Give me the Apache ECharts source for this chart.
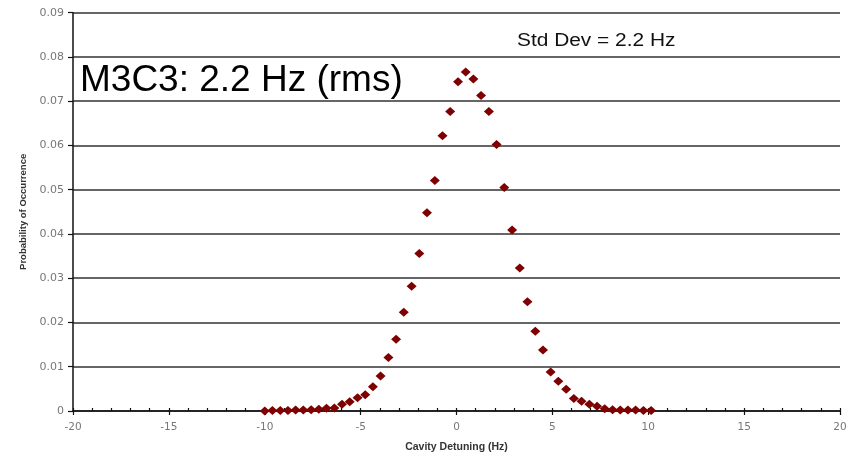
<!DOCTYPE html>
<html>
<head>
<meta charset="utf-8">
<script src="https://cdn.jsdelivr.net/npm/echarts@6/dist/echarts.min.js"></script>
<style>
  html, body { margin: 0; padding: 0; background: #fff; }
  #chart { width: 855px; height: 458px; }
</style>
</head>
<body>
<div id="chart"></div>
<script>
// Cavity detuning bins (Hz)
var detuning = [
  -10.00, -9.60, -9.19, -8.79, -8.39, -7.99, -7.58, -7.18, -6.78, -6.37,
  -5.97, -5.57, -5.16, -4.76, -4.36, -3.96, -3.55, -3.15, -2.75, -2.34,
  -1.94, -1.54, -1.13, -0.73, -0.33, 0.08, 0.48, 0.88, 1.28, 1.69,
  2.09, 2.49, 2.90, 3.30, 3.70, 4.11, 4.51, 4.91, 5.31, 5.72,
  6.12, 6.52, 6.93, 7.33, 7.73, 8.14, 8.54, 8.94, 9.34, 9.75,
  10.15
];
// Probability of occurrence for each bin
var probability = [
  0.0000, 0.0001, 0.0001, 0.0001, 0.0002, 0.0002, 0.0003, 0.0004, 0.0006, 0.0007,
  0.0015, 0.0021, 0.0030, 0.0037, 0.0055, 0.0079, 0.0121, 0.0162, 0.0223, 0.0282,
  0.0356, 0.0448, 0.0521, 0.0622, 0.0677, 0.0744, 0.0766, 0.0750, 0.0713, 0.0677,
  0.0602, 0.0505, 0.0409, 0.0323, 0.0247, 0.0180, 0.0138, 0.0088, 0.0067, 0.0049,
  0.0028, 0.0022, 0.0015, 0.0011, 0.0005, 0.0003, 0.0002, 0.0002, 0.0002, 0.0001,
  0.0001
];
var xRange = [-20, 20];
var yRange = [0, 0.09];
var title = 'M3C3: 2.2 Hz (rms)';
var stdNote = 'Std Dev = 2.2 Hz';

var points = detuning.map(function (x, i) { return [x, probability[i]]; });

var chart = echarts.init(document.getElementById('chart'), null, { renderer: 'canvas' });
var labelFont = 'DejaVu Sans';
chart.setOption({
  backgroundColor: '#ffffff',
  animation: false,
  grid: { left: 73, right: 15, top: 12.7, bottom: 46.3 },
  xAxis: [{
    type: 'value',
    min: xRange[0], max: xRange[1], interval: 5,
    position: 'bottom',
    axisLine: { show: true, onZero: false, lineStyle: { color: '#111', width: 1.5 } },
    axisTick: { show: true, inside: false, length: 4, lineStyle: { color: '#111', width: 1.2 } },
    axisLabel: { color: '#777', fontFamily: labelFont, fontSize: 10.5, margin: 11 },
    splitLine: { show: false },
    name: 'Cavity Detuning (Hz)',
    nameLocation: 'middle',
    nameGap: 31,
    nameTextStyle: { color: '#333', fontFamily: 'Liberation Sans', fontWeight: 'bold', fontSize: 10.5 }
  }, {
    type: 'value',
    min: xRange[0], max: xRange[1], interval: 1,
    position: 'bottom',
    axisLine: { show: false, onZero: false },
    axisTick: { show: true, inside: true, length: 3, lineStyle: { color: '#111', width: 1.2 } },
    axisLabel: { show: false },
    splitLine: { show: false }
  }],
  yAxis: {
    type: 'value',
    min: yRange[0], max: yRange[1], interval: 0.01,
    position: 'left',
    axisLine: { show: true, onZero: false, lineStyle: { color: '#111', width: 1.5 } },
    axisTick: { show: true, inside: false, length: 5, lineStyle: { color: '#111', width: 1.2 } },
    axisLabel: {
      color: '#777', fontFamily: labelFont, fontSize: 11, margin: 9,
      formatter: function (v) { return v === 0 ? '0' : v.toFixed(2); }
    },
    splitLine: { show: true, lineStyle: { color: '#333', width: 1.5 } },
    name: 'Probability of Occurrence',
    nameLocation: 'middle',
    nameGap: 45,
    nameTextStyle: { color: '#333', fontFamily: 'Liberation Sans', fontWeight: 'bold', fontSize: 9.5 }
  },
  series: [{
    type: 'scatter',
    xAxisIndex: 0,
    data: points,
    symbol: 'diamond',
    symbolSize: [10, 9],
    itemStyle: { color: '#7e0000', opacity: 1 },
    z: 5
  }],
  graphic: [{
    type: 'text',
    left: 80, top: 62,
    style: { text: title, fill: '#000', font: '37px "Liberation Sans", Arial, sans-serif' },
    z: 10
  }, {
    type: 'text',
    x: 517, y: 32,
    scaleX: 1.16,
    style: { text: stdNote, fill: '#111', font: '18px "Liberation Sans", Arial, sans-serif' },
    z: 10
  }]
});
</script>
</body>
</html>
